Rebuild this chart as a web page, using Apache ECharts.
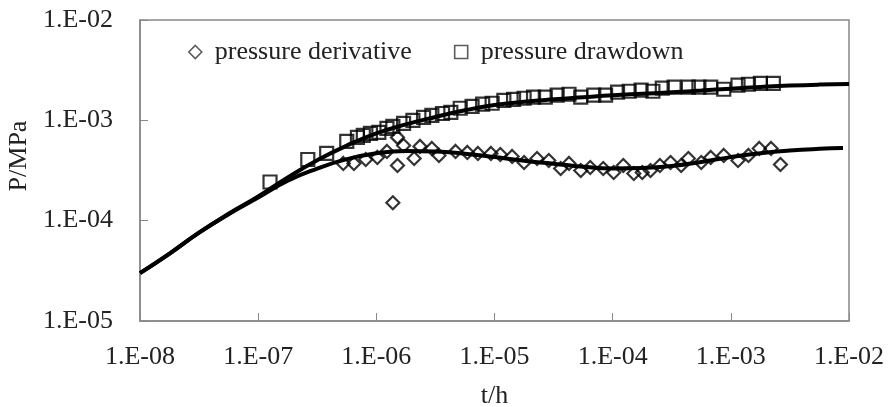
<!DOCTYPE html>
<html>
<head>
<meta charset="utf-8">
<script src="https://cdn.jsdelivr.net/npm/echarts@6/dist/echarts.min.js"></script>
<style>html,body{margin:0;padding:0;background:#fff;overflow:hidden}#c{width:889px;height:407px}</style>
</head>
<body>
<div id="c"></div>
<script>
// Pressure drawdown measured points [t (h), P (MPa)]
var drawdownT = [1.26e-7,2.63e-7,3.80e-7,5.62e-7,6.92e-7,7.76e-7,8.91e-7,1.05e-6,1.23e-6,1.38e-6,1.70e-6,2.04e-6,2.51e-6,2.95e-6,3.63e-6,4.27e-6,5.13e-6,6.46e-6,7.94e-6,9.55e-6,1.20e-5,1.45e-5,1.78e-5,2.14e-5,2.69e-5,3.39e-5,4.27e-5,5.37e-5,6.92e-5,8.71e-5,1.10e-4,1.38e-4,1.74e-4,2.19e-4,2.63e-4,3.31e-4,4.37e-4,5.37e-4,6.76e-4,8.71e-4,1.15e-3,1.41e-3,1.78e-3,2.29e-3];
var drawdownP = [2.43e-4,4.07e-4,4.68e-4,6.17e-4,6.76e-4,7.08e-4,7.41e-4,7.59e-4,8.32e-4,8.71e-4,9.33e-4,1.00e-3,1.07e-3,1.12e-3,1.17e-3,1.20e-3,1.32e-3,1.38e-3,1.45e-3,1.48e-3,1.58e-3,1.62e-3,1.66e-3,1.70e-3,1.70e-3,1.78e-3,1.82e-3,1.70e-3,1.78e-3,1.78e-3,1.91e-3,1.95e-3,2.00e-3,1.95e-3,2.09e-3,2.14e-3,2.14e-3,2.14e-3,2.14e-3,2.04e-3,2.24e-3,2.29e-3,2.34e-3,2.34e-3];
// Pressure derivative measured points [t (h), P (MPa)]
var derivT = [5.25e-7,6.46e-7,8.13e-7,1.02e-6,1.23e-6,1.51e-6,1.70e-6,1.51e-6,1.38e-6,2.09e-6,2.34e-6,2.95e-6,3.39e-6,4.68e-6,5.89e-6,7.24e-6,9.33e-6,1.12e-5,1.41e-5,1.78e-5,2.29e-5,2.88e-5,3.63e-5,4.27e-5,5.37e-5,6.46e-5,8.32e-5,1.02e-4,1.23e-4,1.51e-4,1.78e-4,2.09e-4,2.51e-4,3.09e-4,3.80e-4,4.37e-4,5.62e-4,6.76e-4,8.71e-4,1.15e-3,1.41e-3,1.74e-3,2.19e-3,2.63e-3];
var derivP = [3.72e-4,3.72e-4,4.07e-4,4.27e-4,4.90e-4,6.76e-4,5.62e-4,3.55e-4,1.51e-4,4.17e-4,5.50e-4,5.25e-4,4.47e-4,4.90e-4,4.79e-4,4.68e-4,4.68e-4,4.57e-4,4.37e-4,3.80e-4,4.17e-4,3.98e-4,3.31e-4,3.72e-4,3.16e-4,3.39e-4,3.31e-4,3.02e-4,3.55e-4,2.95e-4,3.02e-4,3.16e-4,3.55e-4,3.80e-4,3.55e-4,4.17e-4,3.80e-4,4.27e-4,4.47e-4,3.98e-4,4.47e-4,5.25e-4,5.25e-4,3.63e-4];
// Model curves
var modelT = [1e-8,1.78e-8,3.16e-8,5.62e-8,1e-7,1.78e-7,3.16e-7,5.62e-7,1e-6,1.78e-6,3.16e-6,5.62e-6,1e-5,1.78e-5,3.16e-5,5.62e-5,1e-4,1.78e-4,3.16e-4,5.62e-4,1e-3,1.78e-3,3.16e-3,5.62e-3,1e-2];
var modelDrawdownP = [3.0e-5,4.7e-5,7.6e-5,1.17e-4,1.74e-4,2.7e-4,4.0e-4,5.6e-4,7.4e-4,9.1e-4,1.08e-3,1.26e-3,1.42e-3,1.53e-3,1.62e-3,1.70e-3,1.78e-3,1.84e-3,1.90e-3,1.98e-3,2.07e-3,2.15e-3,2.22e-3,2.27e-3,2.30e-3];
var derivModelT = [1e-8,1.78e-8,3.16e-8,5.62e-8,1e-7,1.78e-7,3.16e-7,5.62e-7,1e-6,1.78e-6,3.16e-6,5.62e-6,1e-5,1.78e-5,3.16e-5,5.62e-5,1e-4,1.78e-4,3.16e-4,5.62e-4,1e-3,1.78e-3,3.16e-3,5.62e-3,8.9e-3];
var modelDerivP = [3.0e-5,4.7e-5,7.6e-5,1.16e-4,1.70e-4,2.5e-4,3.3e-4,4.1e-4,4.7e-4,4.95e-4,4.9e-4,4.65e-4,4.3e-4,3.95e-4,3.7e-4,3.45e-4,3.32e-4,3.35e-4,3.5e-4,3.85e-4,4.3e-4,4.7e-4,5.0e-4,5.2e-4,5.3e-4];

function zip(a,b){return a.map(function(v,i){return [v,b[i]];});}
function fmt(v){
  var e = Math.round(Math.log10(v));
  var s = e < 0 ? '-' : '+';
  var a = Math.abs(e);
  return '1.E' + s + (a < 10 ? '0' + a : a);
}
var font = '"Liberation Serif","Times New Roman",serif';
var fs = 26;
var chart = echarts.init(document.getElementById('c'));
chart.setOption({
  animation:false,
  backgroundColor:'#fff',
  grid:{left:140,right:40,top:20,bottom:86,outerBoundsMode:'none',containLabel:false,
        show:true,borderColor:'#888',borderWidth:1.5,backgroundColor:'transparent'},
  legend:{
    left:183, top:34, itemGap:42, itemWidth:13, itemHeight:13,
    itemStyle:{borderWidth:1.6,borderColor:'#333'},
    textStyle:{fontFamily:font,fontSize:fs,color:'#222',padding:[0,0,0,8]},
    data:['pressure derivative','pressure drawdown']
  },
  xAxis:{
    type:'log', logBase:10, min:1e-8, max:1e-2,
    name:'t/h', nameLocation:'middle', nameGap:62,
    nameTextStyle:{fontFamily:font,fontSize:fs,color:'#222'},
    axisLine:{show:true,lineStyle:{color:'#888',width:1.5}},
    axisTick:{show:true,inside:true,length:8,lineStyle:{color:'#888'}},
    axisLabel:{fontFamily:font,fontSize:fs,color:'#222',margin:23,formatter:fmt},
    splitLine:{show:false}, minorTick:{show:false}
  },
  yAxis:{
    type:'log', logBase:10, min:1e-5, max:1e-2,
    name:'P/MPa', nameLocation:'middle', nameGap:107, nameRotate:90,
    nameTextStyle:{fontFamily:font,fontSize:fs,color:'#222',padding:[0,0,0,29]},
    axisLine:{show:true,lineStyle:{color:'#888',width:1.5}},
    axisTick:{show:true,inside:true,length:8,lineStyle:{color:'#888'}},
    axisLabel:{fontFamily:font,fontSize:fs,color:'#222',margin:27,formatter:fmt},
    splitLine:{show:false}, minorTick:{show:false}
  },
  series:[
    {name:'model drawdown',type:'line',data:zip(modelT,modelDrawdownP),showSymbol:false,smooth:true,lineStyle:{color:'#000',width:4},z:1},
    {name:'model derivative',type:'line',data:zip(derivModelT,modelDerivP),showSymbol:false,smooth:true,lineStyle:{color:'#000',width:4},z:1},
    {name:'pressure derivative',type:'scatter',data:zip(derivT,derivP),symbol:'diamond',symbolSize:13,
      itemStyle:{color:'rgba(255,255,255,0)',borderColor:'#000',borderWidth:2.2},z:3},
    {name:'pressure drawdown',type:'scatter',data:zip(drawdownT,drawdownP),symbol:'rect',symbolSize:13,
      itemStyle:{color:'rgba(255,255,255,0)',borderColor:'#000',borderWidth:2.2},z:3}
  ]
});
</script>
</body>
</html>
